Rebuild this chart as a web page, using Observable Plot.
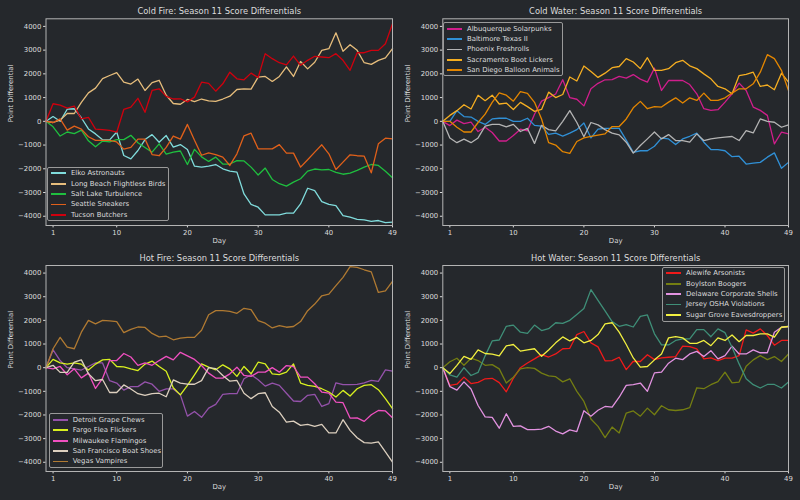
<!DOCTYPE html>
<html><head><meta charset="utf-8">
<script src="https://cdn.jsdelivr.net/npm/d3@7"></script>
<script src="https://cdn.jsdelivr.net/npm/@observablehq/plot@0.6"></script>
<style>
html,body{margin:0;padding:0;background:#25282c;}
#root{position:relative;width:800px;height:500px;background:#25282c;font-family:"DejaVu Sans",sans-serif;color:#dcdcdc;overflow:hidden;}
.panel{position:absolute;}
.legend{position:absolute;box-sizing:border-box;border:1px solid #9a9a9a;border-radius:2px;background:#25282c;padding:0.5px 0 0 2.7px;}
.row{height:10.4px;line-height:10.4px;font-size:6.9px;white-space:nowrap;display:flex;align-items:center;}
.sw{flex:none;display:block;width:15px;height:1.8px;margin-right:5px;}
</style></head>
<body><div id="root"></div>
<script>
const days = [0,1,2,3,4,5,6,7,8,9,10,11,12,13,14,15,16,17,18,19,20,21,22,23,24,25,26,27,28,29,30,31,32,33,34,35,36,37,38,39,40,41,42,43,44,45,46,47,48,49];
const xTicks = [1,10,20,30,40,49];
const yTicks = [-4000,-3000,-2000,-1000,0,1000,2000,3000,4000];

// Cold Fire
const elko = [0,200,0,510,530,150,-320,-530,-780,-780,-450,-1440,-1580,-1230,-770,-560,-880,-600,-1090,-980,-1190,-1890,-1930,-1890,-1820,-2000,-2100,-2140,-3060,-3500,-3620,-3940,-3940,-3940,-3870,-3870,-3480,-2820,-2920,-3380,-3500,-3550,-3970,-4040,-4130,-4150,-4220,-4180,-4270,-4250];
const longBeach = [0,-50,50,330,330,800,1200,1400,1800,1930,2050,1650,1570,1780,1300,1630,1730,1100,750,720,920,830,940,860,840,940,1060,1340,1370,1360,1860,1890,1680,1890,2290,1890,2520,2210,2490,2990,3060,3730,2950,3230,2990,2470,2400,2570,2670,3060];
const saltLake = [0,-230,-620,-450,-520,-370,-820,-1070,-830,-870,-770,-770,-590,-900,-1100,-1300,-950,-1380,-1300,-1250,-1820,-1180,-1500,-1690,-1510,-1800,-1800,-1660,-1670,-1930,-2260,-1970,-2450,-2630,-2730,-2560,-2420,-2100,-2010,-2050,-2030,-2150,-2230,-2180,-2070,-1930,-1820,-1860,-2100,-2380];
const seattle = [0,-50,100,-370,-200,-330,-650,-800,-800,-800,-870,-1170,-1100,-750,-750,-1400,-1450,-1100,-620,-750,-130,-800,-1430,-1330,-1400,-1510,-1860,-1370,-610,-500,-1160,-1160,-1160,-980,-1340,-1340,-1930,-1620,-1300,-990,-1370,-2030,-1720,-1410,-1450,-1470,-2170,-950,-710,-740];
const tucson = [0,740,680,560,640,100,170,-330,-350,-380,-460,500,600,970,380,1300,1370,1050,940,950,820,1020,1650,1600,1270,1580,2070,1790,1750,2030,1840,2850,2640,2470,2380,2750,2360,2570,2740,2710,2680,2850,2570,2150,2890,2890,2990,2990,3270,4110];

// Cold Water
const albuquerque = [0,-180,50,-100,-30,-430,-250,-470,-830,-830,-600,-330,-400,300,850,1000,1150,1750,1000,930,650,1370,1600,1750,1760,1890,1820,1970,1780,1650,2240,1300,1720,1720,1720,1550,1160,530,460,490,810,1160,1610,1300,600,460,250,-950,-460,-530];
const baltimore = [0,0,450,200,180,0,-130,100,130,130,0,0,130,-170,-200,-550,-500,-620,-500,-350,-70,-700,-330,-300,-300,-300,-790,-1310,-1240,-1240,-1050,-710,-740,-980,-740,-630,-500,-880,-1190,-1190,-1240,-1490,-1470,-1800,-1760,-1730,-1510,-1330,-1980,-1730];
const phoenix = [0,-700,-900,-750,-900,-700,-200,-130,-130,-230,-130,-430,-300,-930,-170,-350,-400,0,450,-50,-650,-50,-150,-350,-500,-570,-880,-1340,-1020,-740,-450,-740,-560,-810,-810,-880,-530,-810,-740,-700,-670,-640,-810,-390,-490,100,0,-40,-250,-150];
const sacramento = [0,250,450,700,520,1100,870,1100,730,770,500,800,620,420,500,1230,1000,1130,1870,1700,2330,2100,1850,2030,2260,2310,2640,2500,2220,2680,2150,2150,2220,2470,2570,2340,2220,2000,1790,1470,1370,1160,1930,1980,2070,1470,1530,1330,2030,1650];
const sanDiego = [0,0,-250,-450,-450,-50,300,800,1200,1100,850,1250,1180,800,100,-900,-1000,-1280,-1350,-850,-700,-630,-580,-530,-220,-220,100,570,840,530,620,600,810,990,770,990,880,1190,880,880,990,1190,1370,1370,1580,2070,2810,2640,2150,1300];

// Hot Fire
const detroit = [0,750,300,0,-50,-100,50,200,200,-550,-650,-950,-800,-800,-600,-700,-1000,-900,-900,-1150,-2050,-1850,-2100,-1710,-1550,-1130,-1100,-1100,-470,-300,-510,-780,-650,-750,-1080,-1410,-1430,-1170,-1130,-1640,-1520,-640,-720,-720,-710,-640,-540,-580,-90,-150];
const fargo = [0,350,200,150,200,150,-100,150,330,350,50,30,-50,-120,150,280,50,-150,-850,-1150,-750,-300,160,20,-90,120,-50,-370,50,-260,230,160,-260,-290,-190,160,-650,-750,-790,-890,-1030,-1240,-960,-1200,-890,-750,-720,-930,-1310,-1730];
const milwaukee = [0,-50,50,-300,-50,-430,-230,-880,-450,300,300,600,450,100,200,100,300,480,330,650,500,350,90,-230,-440,-440,-260,20,-330,-370,-190,-190,0,-190,90,50,-400,-400,-680,-1030,-1080,-1460,-1480,-2130,-2120,-2270,-1990,-1810,-1830,-2120];
const sanFrancisco = [0,100,-200,-200,230,330,-250,-550,-500,-1050,-1050,-730,-900,-1100,-1170,-1100,-1080,-1230,-520,-650,-700,-700,-550,0,-40,-330,-570,-540,-1080,-1310,-1100,-1060,-1640,-1880,-2300,-2260,-2440,-2400,-2480,-2400,-2760,-2760,-2200,-2650,-2960,-3170,-3190,-3140,-3560,-3990];
const vegas = [0,800,1280,870,800,1500,2000,1850,2000,1980,1950,1480,1620,1720,1700,1450,1300,1330,1180,1250,1280,1280,1580,2240,2410,2410,2380,2300,2510,2450,1990,1880,1680,1780,1710,1740,1950,2410,2690,3040,3110,3470,3820,4270,4240,4140,4050,3180,3250,3650];

// Hot Water
const alewife = [0,-750,-700,-400,-670,-620,-470,-450,-630,-1020,-450,0,200,370,550,450,580,800,820,1400,1530,1050,880,290,300,440,-80,270,260,550,340,410,440,470,910,890,790,370,410,300,400,400,510,1600,1460,1640,1360,950,1150,1150];
const boylston = [0,250,400,100,400,300,100,130,-50,-650,-400,-50,0,-30,-230,-350,-380,-600,-470,-1000,-1430,-2170,-2480,-2960,-2510,-2760,-1920,-1830,-2050,-1710,-1990,-1610,-1780,-1810,-1780,-1690,-850,-890,-720,-590,-190,-640,-610,60,330,510,340,470,260,580];
const delaware = [0,-800,-950,-600,-900,-1600,-2080,-2100,-2560,-1950,-2480,-2460,-2620,-2620,-2600,-2480,-2680,-2800,-2630,-2700,-1820,-2050,-1800,-1640,-1670,-1250,-750,-720,-650,-1000,-220,-190,190,400,340,580,690,470,720,370,510,910,580,580,750,630,630,1500,1710,1740];
const jersey = [0,-300,-400,0,-330,-200,500,1130,1170,1750,1800,1500,1450,1800,1570,1650,1900,1870,2000,2250,2500,3300,2850,2400,1950,1750,1820,1720,2170,2230,1430,960,960,1150,1220,1220,1610,1610,1310,1640,1480,860,160,-470,-720,-860,-710,-710,-860,-610];
const sugarGrove = [0,-250,100,480,350,750,600,570,500,920,980,700,750,800,480,750,1050,1300,1130,1280,1050,1150,1400,1850,1900,1500,980,410,20,50,330,580,1260,1310,1260,1030,1030,1150,930,1260,1150,1380,1100,1360,1360,1430,1430,1290,1710,1740];

const TEXT = "#dcdcdc", FRAME = "#b4b4b4", FONT = "DejaVu Sans";

const panels = [
  {title: "Cold Fire: Season 11 Score Differentials", left: 0, top: 0, mL: 45.5, mR: 8, mT: 18.3, mB: 25, titleDy: -7.3,
   legend: {left: 47.3, top: 166.7, width: 122, height: 54.3},
   series: [
    {name: "Elko Astronauts", color: "#80dcdc", values: elko},
    {name: "Long Beach Flightless Birds", color: "#e6bd7c", values: longBeach},
    {name: "Salt Lake Turbulence", color: "#1fbf3f", values: saltLake},
    {name: "Seattle Sneakers", color: "#e0601a", values: seattle},
    {name: "Tucson Butchers", color: "#d0000e", values: tucson}]},
  {title: "Cold Water: Season 11 Score Differentials", left: 400, top: 0, mL: 42.3, mR: 12, mT: 18.3, mB: 25, titleDy: -7.3,
   legend: {left: 443.3, top: 22, width: 120, height: 54},
   series: [
    {name: "Albuquerque Solarpunks", color: "#d01e8c", values: albuquerque},
    {name: "Baltimore Texas II", color: "#3090d6", values: baltimore},
    {name: "Phoenix Freshrolls", color: "#b4b4b4", values: phoenix},
    {name: "Sacramento Boot Lickers", color: "#f5ae22", values: sacramento},
    {name: "San Diego Balloon Animals", color: "#e48600", values: sanDiego}]},
  {title: "Hot Fire: Season 11 Score Differentials", left: 0, top: 250, mL: 45.5, mR: 8, mT: 15, mB: 29, titleDy: -7,
   legend: {left: 49, top: 413.3, width: 114.3, height: 55},
   series: [
    {name: "Detroit Grape Chews", color: "#9452aa", values: detroit},
    {name: "Fargo Flea Flickers", color: "#d8f020", values: fargo},
    {name: "Milwaukee Flamingos", color: "#f050c0", values: milwaukee},
    {name: "San Francisco Boat Shoes", color: "#ddd0bf", values: sanFrancisco},
    {name: "Vegas Vampires", color: "#b07a32", values: vegas}]},
  {title: "Hot Water: Season 11 Score Differentials", left: 400, top: 250, mL: 42.3, mR: 12, mT: 15, mB: 29, titleDy: -7,
   legend: {left: 662.3, top: 266.7, width: 122.5, height: 55},
   series: [
    {name: "Alewife Arsonists", color: "#f01a1a", values: alewife},
    {name: "Boylston Boogers", color: "#747e12", values: boylston},
    {name: "Delaware Corporate Shells", color: "#e292e0", values: delaware},
    {name: "Jersey OSHA Violations", color: "#3f8f78", values: jersey},
    {name: "Sugar Grove Eavesdroppers", color: "#f2f040", values: sugarGrove}]}
];

const fmt = d => d < 0 ? "\u2212" + Math.abs(d) : String(d);
const root = document.getElementById("root");

for (const p of panels) {
  const rows = [];
  p.series.forEach(s => s.values.forEach((v, i) => rows.push({team: s.name, day: days[i], value: v})));
  const chart = Plot.plot({
    width: 400, height: 250,
    marginLeft: p.mL, marginRight: p.mR, marginTop: p.mT, marginBottom: p.mB,
    style: {background: "none", color: TEXT, fontFamily: FONT, fontSize: "6.9px", overflow: "visible"},
    x: {domain: [0, 49]},
    y: {domain: [-4390, 4320]},
    color: {domain: p.series.map(s => s.name), range: p.series.map(s => s.color)},
    marks: [
      Plot.axisX({ticks: xTicks, tickSize: 2.4, tickPadding: 1.8, label: null, tickFormat: d => String(d)}),
      Plot.axisY({ticks: yTicks, tickSize: 2.4, tickPadding: 2.2, label: null, tickFormat: fmt}),
      Plot.line(rows, {x: "day", y: "value", z: "team", stroke: "team", strokeWidth: 1.3}),
      Plot.frame({stroke: FRAME}),
      Plot.text([p.title], {frameAnchor: "top", dy: p.titleDy, fontSize: 8.3, lineAnchor: "middle", fill: TEXT}),
      Plot.text(["Point Differential"], {frameAnchor: "left", dx: -35, rotate: -90, fill: TEXT}),
      Plot.text(["Day"], {frameAnchor: "bottom", dy: 17.5, fill: TEXT})
    ]
  });
  const wrap = document.createElement("div");
  wrap.className = "panel";
  wrap.style.left = p.left + "px";
  wrap.style.top = p.top + "px";
  wrap.appendChild(chart);
  root.appendChild(wrap);

  const lg = document.createElement("div");
  lg.className = "legend";
  Object.assign(lg.style, {left: p.legend.left + "px", top: p.legend.top + "px", width: p.legend.width + "px", height: p.legend.height + "px"});
  for (const s of p.series) {
    const r = document.createElement("div");
    r.className = "row";
    const sw = document.createElement("span");
    sw.className = "sw";
    sw.style.background = s.color;
    r.appendChild(sw);
    r.appendChild(document.createTextNode(s.name));
    lg.appendChild(r);
  }
  root.appendChild(lg);
}
</script></body></html>
